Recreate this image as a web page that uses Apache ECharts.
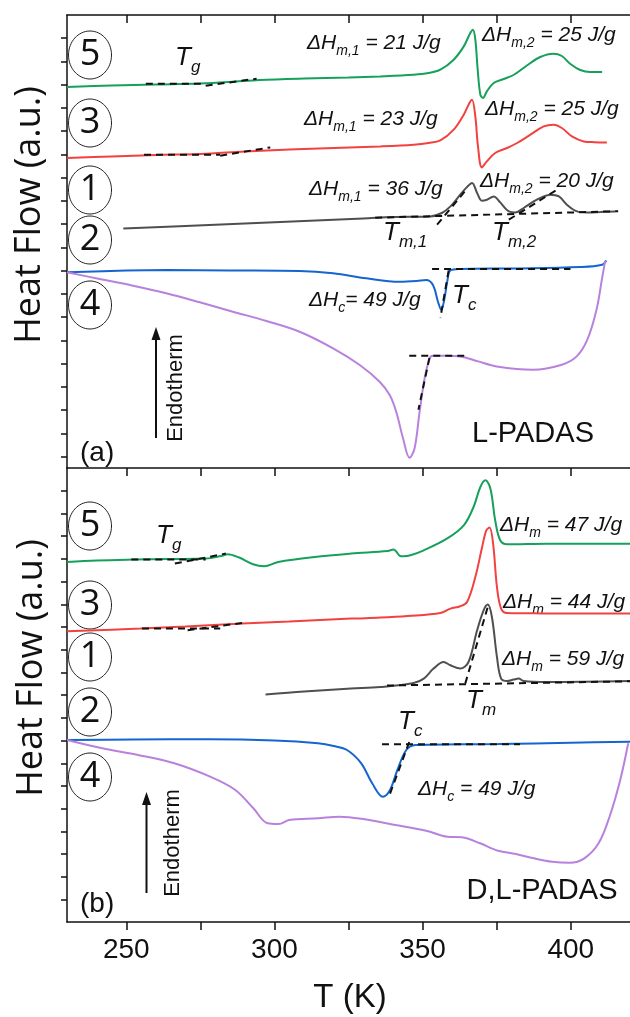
<!DOCTYPE html>
<html>
<head>
<meta charset="utf-8">
<script src="https://cdn.jsdelivr.net/npm/echarts@6/dist/echarts.min.js"></script>
<style>
html, body { margin: 0; padding: 0; background: #fff; }
#graph { width: 630px; height: 1017px; }
</style>
</head>
<body>
<div id="graph"></div>
<script>
// axis ticks
let xTicks = [250, 275, 300, 325, 350, 375, 400];
let xLabels = [250, 300, 350, 400];
let yTicksA = [11, 34, 58, 81, 104, 127, 151, 174, 197, 220, 244, 267, 290, 313, 337, 360, 383, 406, 430];
let yTicksB = [22, 45, 68, 90, 113, 136, 158, 181, 204, 227, 249, 272, 295, 317, 340, 363, 386, 408, 431];

// (a) L-PADAS  [T (K), heat flow (a.u.)]
let greenA = [[230,381],[245,382.5],[260,383.5],[275,384.5],[285,386],[295,388],[310,389.5],[325,390.5],[335.7,391.6],[347,393.3],[352,395],[356,398.3],[360.5,408.3],[363.9,421.6],[366.1,435],[367,438.3],[367.8,428.3],[368.6,398.3],[369.5,373.3],[370.4,370],[371.7,376.6],[374,385],[377.4,389],[380.7,393],[385.2,402.5],[389.7,411],[394.2,414.3],[397,412],[399.9,404],[403.2,398],[406.6,396],[410.6,396]];
let redA = [[230,310],[245,311.5],[260,313],[275,314],[290,316.5],[305,318.5],[320,320],[335.7,321.6],[347,323.3],[352,325],[356,327.6],[360.5,338.3],[363.9,353.3],[365.9,365.6],[366.7,368.3],[367.8,351.6],[368.7,321.6],[370,300.6],[371.7,306.6],[374.5,315],[378.5,320],[381.9,325],[386.4,333.3],[390.9,341.6],[394.2,343.3],[397,340],[400.4,331.6],[404.4,326.6],[408,325.8],[412.2,325.6]];
let blackA = [[249,239.5],[270,242],[290,244.5],[310,247],[330,249.5],[340,251],[352.6,251.6],[356.5,255],[359.4,261.6],[362.7,273.3],[365.2,281.6],[366.7,285],[368.4,275],[370,267.3],[371.7,268.3],[374,271.6],[376.2,265.6],[379.1,256.6],[381.3,255.6],[384.1,260],[387.5,266.6],[390.9,271.6],[393.1,273.3],[396,271.6],[398.7,263.3],[402.1,256.6],[405.5,255.6],[410,256],[415,256.6]];
let blueA = [[230,195.7],[250,197.5],[263.5,198],[285,197.5],[308.5,197],[319.8,194.7],[331,189.7],[342.2,186.3],[348,187],[351.2,188],[353.5,183],[355.2,166.3],[356.3,158],[357.4,169.7],[358.3,186],[359.4,197.6],[362.7,199],[380.7,199.6],[403.2,201],[410.6,203.3],[412,207.6]];
let purpleA = [[230,195.7],[241,189],[252.3,182.3],[263.5,174.7],[274.8,165.7],[286,156.3],[297.3,147],[308.5,136.3],[319.8,119.7],[328.8,103],[335.5,86.3],[338.9,73],[341.1,56.3],[343.4,29.7],[345.6,10.3],[347.3,19.7],[349,56.3],[350.7,89.7],[352.4,109.7],[353.5,112.3],[358,112.3],[362.7,111.6],[368.8,106.6],[375,101.6],[387.2,98.3],[397,103.3],[402,111.6],[405.6,128.3],[408.7,158.3],[410.5,188.3],[411.6,207]];

// (b) D,L-PADAS
let greenB = [[230,360],[240,361.5],[252.3,362.4],[265,363],[276.8,363.4],[282,366],[284.2,367.7],[287.9,364.7],[292.8,357.7],[296.5,355.7],[301.3,360],[313.6,365],[325.9,368.4],[338.2,371],[340.2,372.4],[341.1,370.5],[342.4,366],[343.6,365.7],[345.9,366.7],[350.4,371.7],[358.2,383.3],[363.9,396.7],[367.2,415],[369.5,435],[371.2,441.7],[372.9,433.3],[374.5,401.7],[376.2,381.7],[378.5,377.7],[392,378.3],[420,378.3]];
let redB = [[230,290.7],[254.8,293.4],[270,295.5],[289.1,298.4],[305,300.5],[325.9,303.4],[335.7,304.4],[345,306],[356,309],[359.4,313.4],[362.7,315.7],[365,320],[367.8,345],[370.1,375],[371.5,391.7],[372.6,394.4],[373.8,378.4],[375.1,335],[376.5,313.4],[378.5,309],[390,308.6],[420,308.4]];
let blackB = [[297,227.4],[310,230.5],[325.9,233.4],[335.7,235],[347,239],[350.4,243.4],[353.7,253.4],[357.1,260],[359.4,256.7],[362.7,253.4],[365.5,260],[368.4,291.7],[370.6,311.7],[372,317.4],[373.4,305],[375.1,265],[376.5,243.4],[378.5,241],[380.7,242.4],[382.4,243.4],[384.1,241],[392,240],[420,241]];
let blueB = [[230,182],[252,182.5],[278,182.7],[300,181.5],[314.7,178.7],[320,176],[324.5,172],[329.3,158.7],[333,138.7],[336.6,125.3],[339,132],[341.5,152],[344.5,172],[347.6,177],[362,177.7],[375.5,178],[400,179.3],[420,180.3]];
let purpleB = [[230,182],[241.9,173.7],[254,167],[266.2,158.7],[278.3,145.3],[286.8,132],[292.9,113.7],[297.7,98.7],[301.4,98],[305,102],[314.7,103.7],[322,105.3],[330.5,102.7],[339,98],[351.2,91.3],[358.4,85.3],[363.3,84.7],[369.4,78.7],[375.5,71.3],[381.5,68],[387.6,63.7],[393.7,60.3],[399.7,59.3],[404.6,63.7],[409.4,78.7],[413.1,105.3],[416.7,142],[419.4,178.7]];

// construction lines (onsets)
let dashA = [
	[[256.6,384.3],[276.8,384.3]], [[276.8,382.3],[294,389.3]],
	[[256,313.3],[281.7,313.3]], [[281.7,312.3],[298.6,320.6]],
	[[334,250.3],[416,256.8]], [[354.9,243.3],[365.2,280]], [[379.1,248.3],[395.4,278.3]],
	[[353.2,199],[399.9,199]], [[358.8,197.6],[356,150]],
	[[345.5,112.3],[364.3,112.3]], [[352.3,110],[348.6,58.3]]
];
let dashB = [
	[[251.7,362.4],[276.8,362.4]], [[266.4,358.4],[283.6,368.4]],
	[[255.3,293.4],[281.7,293.4]], [[270.7,291.7],[289.1,299]],
	[[338,236.5],[420,240.7]], [[364.4,238.4],[372,315]],
	[[336.3,177.7],[382.9,177.7]], [[345.5,180],[338.8,126.7]]
];

let colors = { green: '#17a05b', red: '#f2423f', black: '#4f4f4f', blue: '#1565d0', purple: '#b882dc' };

var myChart = echarts.init(document.getElementById('graph'), null, { width: 630, height: 1017, renderer: 'canvas' });

function curve(data, color, panel) {
	return {
		type: 'line', data: data, xAxisIndex: panel == 0 ? 0 : 2, yAxisIndex: panel,
		symbol: 'none', smooth: 0.35, silent: true, z: 2,
		lineStyle: { color: color, width: 2 }
	};
}
function dash(data, panel) {
	return {
		type: 'line', data: data, xAxisIndex: panel == 0 ? 0 : 2, yAxisIndex: panel,
		symbol: 'none', silent: true, z: 3,
		lineStyle: { color: '#111', width: 2, type: [7, 5] }
	};
}

let series = [
	curve(greenA, colors.green, 0), curve(redA, colors.red, 0), curve(blackA, colors.black, 0),
	curve(blueA, colors.blue, 0), curve(purpleA, colors.purple, 0),
	curve(greenB, colors.green, 1), curve(redB, colors.red, 1), curve(blackB, colors.black, 1),
	curve(blueB, colors.blue, 1), curve(purpleB, colors.purple, 1)
];
dashA.forEach(function (d) { series.push(dash(d, 0)); });
dashB.forEach(function (d) { series.push(dash(d, 1)); });

let axLine = { show: true, onZero: false, lineStyle: { color: '#111', width: 1.5 } };

function xAxis(grid, pos, inside, labels) {
	return {
		type: 'value', gridIndex: grid, position: pos, min: 230, max: 420,
		axisLine: axLine, splitLine: { show: false },
		axisTick: { show: true, inside: inside, length: 8, customValues: xTicks, lineStyle: { color: '#111', width: 1.5 } },
		axisLabel: labels ? { show: true, customValues: xLabels, margin: 14, fontSize: 28, color: '#111', fontFamily: 'Liberation Sans' } : { show: false }
	};
}
function yAxis(grid, max, ticks) {
	return {
		type: 'value', gridIndex: grid, min: 0, max: max,
		axisLine: axLine, splitLine: { show: false }, axisLabel: { show: false },
		axisTick: { show: true, inside: false, length: 6, customValues: ticks, lineStyle: { color: '#111', width: 1.5 } }
	};
}

// texts
let g = [];
let ink = '#111';
let rich = {
	m: { fontFamily: 'Liberation Sans', fontStyle: 'italic', fontSize: 21, lineHeight: 22, verticalAlign: 'top', fill: ink },
	s: { fontFamily: 'Liberation Sans', fontStyle: 'italic', fontSize: 14, lineHeight: 14, verticalAlign: 'bottom', fill: ink },
	z: { fontSize: 1, lineHeight: 25 },
	T: { fontFamily: 'Liberation Sans', fontStyle: 'italic', fontSize: 26, lineHeight: 28, verticalAlign: 'top', fill: ink },
	t: { fontFamily: 'Liberation Sans', fontStyle: 'italic', fontSize: 17, lineHeight: 17, verticalAlign: 'bottom', fill: ink },
	y: { fontSize: 1, lineHeight: 31 }
};
function dH(x, cy, sub, rest) {
	g.push({ type: 'text', x: x, y: cy - 11, silent: true,
		style: { text: '{m|ΔH}{s|' + sub + '}{m|' + rest + '}{z| }', rich: rich, align: 'left', verticalAlign: 'top' } });
}
function tLabel(x, cy, sub) {
	g.push({ type: 'text', x: x, y: cy - 13, silent: true,
		style: { text: '{T|T}{t|' + sub + '}{y| }', rich: rich, align: 'left', verticalAlign: 'top' } });
}
function plain(x, y, text, size, opts) {
	g.push(Object.assign({ type: 'text', x: x, y: y, silent: true,
		style: { text: text, fill: ink, fontFamily: 'Liberation Sans', fontSize: size, align: 'center', verticalAlign: 'middle' } }, opts || {}));
}
function num(cy, n) {
	g.push({ type: 'ellipse', silent: true, shape: { cx: 90, cy: cy, rx: 21.5, ry: 24 }, style: { fill: 'none', stroke: '#222', lineWidth: 1 } });
	g.push({ type: 'text', x: 90, y: cy, silent: true,
		style: { text: n, fill: ink, fontFamily: 'Open Sans', fontSize: 36, align: 'center', verticalAlign: 'middle' } });
}
function arrow(x, y0, y1) {
	g.push({ type: 'line', silent: true, shape: { x1: x, y1: y0, x2: x, y2: y1 + 10 }, style: { stroke: ink, lineWidth: 2 } });
	g.push({ type: 'polygon', silent: true, shape: { points: [[x, y1], [x - 4.5, y1 + 13], [x + 4.5, y1 + 13]] }, style: { fill: ink } });
}

// panel (a)
dH(307, 44, 'm,1', ' = 21 J/g');
dH(482, 36, 'm,2', ' = 25 J/g');
dH(304, 120, 'm,1', ' = 23 J/g');
dH(485, 110, 'm,2', ' = 25 J/g');
dH(309, 190, 'm,1', ' = 36 J/g');
dH(480, 182, 'm,2', ' = 20 J/g');
dH(309, 301, 'c', '= 49 J/g');
tLabel(175, 58, 'g');
tLabel(383, 233, 'm,1');
tLabel(492, 233, 'm,2');
tLabel(452, 296, 'c');
num(55, '5'); num(123, '3'); num(190, '1'); num(240, '2'); num(305, '4');
plain(533, 434, 'L-PADAS', 29);
plain(80, 453, '(a)', 28, { style: { text: '(a)', fill: ink, fontFamily: 'Liberation Sans', fontSize: 28, align: 'left', verticalAlign: 'middle' } });
arrow(156, 438, 327);
plain(176, 388, 'Endotherm', 22, { rotation: Math.PI / 2 });
plain(30, 215, 'Heat Flow (a.u.)', 36, { rotation: Math.PI / 2, style: { text: 'Heat Flow (a.u.)', fill: ink, fontFamily: 'Open Sans', fontSize: 36, align: 'center', verticalAlign: 'middle' } });

// panel (b)
tLabel(156, 536, 'g');
dH(500, 526, 'm', ' = 47 J/g');
dH(503, 603, 'm', ' = 44 J/g');
dH(502, 660, 'm', ' = 59 J/g');
tLabel(466, 701, 'm');
tLabel(398, 722, 'c');
dH(418, 790, 'c', ' = 49 J/g');
num(526, '5'); num(605, '3'); num(657, '1'); num(712, '2'); num(777, '4');
plain(542, 891, 'D,L-PADAS', 29);
plain(80, 904, '(b)', 28, { style: { text: '(b)', fill: ink, fontFamily: 'Liberation Sans', fontSize: 28, align: 'left', verticalAlign: 'middle' } });
arrow(146.5, 893, 792);
plain(173, 843, 'Endotherm', 22, { rotation: Math.PI / 2 });
plain(32, 668, 'Heat Flow (a.u.)', 36, { rotation: Math.PI / 2, style: { text: 'Heat Flow (a.u.)', fill: ink, fontFamily: 'Open Sans', fontSize: 36, align: 'center', verticalAlign: 'middle' } });
plain(350, 998, 'T (K)', 33);

var option = {
	animation: false,
	backgroundColor: '#fff',
	grid: [
		{ left: 67, top: 15, width: 563, height: 453 },
		{ left: 67, top: 468, width: 563, height: 454 }
	],
	xAxis: [
		xAxis(0, 'bottom', false, false),
		xAxis(0, 'top', true, false),
		xAxis(1, 'bottom', false, true)
	],
	yAxis: [yAxis(0, 453, yTicksA), yAxis(1, 454, yTicksB)],
	series: series,
	graphic: g
};
myChart.setOption(option, true);
</script>
</body>
</html>
